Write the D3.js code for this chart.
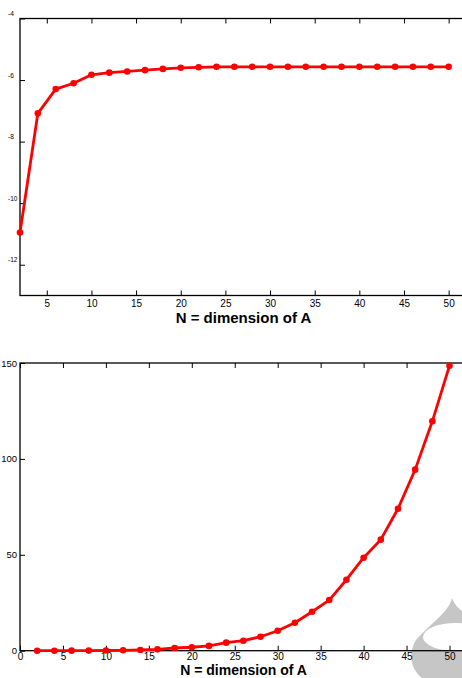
<!DOCTYPE html>
<html>
<head>
<meta charset="utf-8">
<script src="https://cdn.jsdelivr.net/npm/d3@7"></script>
<style>
  body { margin: 0; background: #fff; }
  svg { display: block; }
  text { font-family: "Liberation Sans", Arial, sans-serif; }
</style>
</head>
<body>
<script>
var width = 462
var height = 678

// N values (shared by both panels)
var dims = [2, 4, 6, 8, 10, 12, 14, 16, 18, 20, 22, 24, 26, 28, 30, 32, 34, 36, 38, 40, 42, 44, 46, 48, 50]

// top panel: error, log axis
var errValues = [1.12e-11, 8.3e-8, 5.1e-7, 7.9e-7, 1.48e-6, 1.74e-6, 1.9e-6, 2.1e-6, 2.3e-6, 2.5e-6, 2.6e-6, 2.7e-6, 2.7e-6,
                 2.7e-6, 2.7e-6, 2.7e-6, 2.7e-6, 2.7e-6, 2.7e-6, 2.7e-6, 2.7e-6, 2.7e-6, 2.7e-6, 2.7e-6, 2.7e-6]
var errYTicks = [1e-4, 1e-6, 1e-8, 1e-10, 1e-12]
var errXTicks = [5, 10, 15, 20, 25, 30, 35, 40, 45, 50]

// bottom panel: growth, linear axis
var growthValues = [0, 0.01, 0.02, 0.05, 0.1, 0.2, 0.4, 0.7, 1.4, 1.8, 2.5, 4.2, 5.2, 7.3, 10.4, 14.6, 20.3, 26.4, 37,
                    48.5, 57.9, 74, 94.4, 119.6, 148.6]
var growthYTicks = [0, 50, 100, 150]
var growthXTicks = [0, 5, 10, 15, 20, 25, 30, 35, 40, 45, 50]

var xLabel = "N = dimension of A"

var svg = d3.select("body")
  .append("svg")
    .attr("width", width)
    .attr("height", height)

// ---------- top panel ----------
var x1 = d3.scaleLinear().domain([2, 52]).range([20, 466.5])
var y1 = d3.scaleLog().domain([1e-13, 1e-4]).range([295.5, 18.5])

drawBox(x1, y1)

svg.append("g")
  .attr("transform", "translate(0," + y1.range()[0] + ")")
  .call(d3.axisBottom(x1).tickValues(errXTicks).tickSizeInner(-5).tickSizeOuter(0).tickPadding(4))
  .call(styleAxis)
  .selectAll("text").style("font-size", "10px")

svg.append("g")
  .attr("transform", "translate(0," + y1.range()[1] + ")")
  .call(d3.axisTop(x1).tickValues(errXTicks).tickSizeInner(-5).tickSizeOuter(0).tickFormat(""))
  .call(styleAxis)

var yAx1 = svg.append("g")
  .attr("transform", "translate(" + x1.range()[0] + ",0)")
  .call(d3.axisLeft(y1).tickValues(errYTicks).tickSizeInner(-5).tickSizeOuter(0)
    .tickFormat(function(d){ return String(Math.round(Math.log10(d))) }))
  .call(styleAxis)
// exponent-only labels (the base is cut off by the figure edge)
yAx1.selectAll("text")
  .attr("text-anchor", "start")
  .attr("x", -12)
  .attr("dy", "-3px")
  .style("font-size", "6.5px")

drawSeries(x1, y1, errValues)

svg.append("text")
  .attr("x", 243.5)
  .attr("y", 322.5)
  .attr("text-anchor", "middle")
  .style("font-size", "15px")
  .style("font-weight", "bold")
  .text(xLabel)

// ---------- bottom panel ----------
var x2 = d3.scaleLinear().domain([0, 52]).range([20, 466.7])
var y2 = d3.scaleLinear().domain([0, 150]).range([650.7, 363])

// faint watermark left on the scan
svg.append("path")
  .attr("d", "M452,598 C449,612 430,624 416,640 C407,655 412,670 422,678 L462,678 L462,611 C458,608 454,604 452,598 Z")
  .attr("fill", "#c6c6c6")
svg.append("ellipse")
  .attr("cx", 456).attr("cy", 637).attr("rx", 33).attr("ry", 14)
  .attr("fill", "#fff")

drawBox(x2, y2)

svg.append("g")
  .attr("transform", "translate(0," + y2.range()[0] + ")")
  .call(d3.axisBottom(x2).tickValues(growthXTicks).tickSizeInner(-5).tickSizeOuter(0).tickPadding(2))
  .call(styleAxis)
  .selectAll("text").style("font-size", "10px")

svg.append("g")
  .attr("transform", "translate(0," + y2.range()[1] + ")")
  .call(d3.axisTop(x2).tickValues(growthXTicks).tickSizeInner(-5).tickSizeOuter(0).tickFormat(""))
  .call(styleAxis)

svg.append("g")
  .attr("transform", "translate(" + x2.range()[0] + ",0)")
  .call(d3.axisLeft(y2).tickValues(growthYTicks).tickSizeInner(-5).tickSizeOuter(0).tickPadding(3))
  .call(styleAxis)
  .selectAll("text").style("font-size", "9.5px")

drawSeries(x2, y2, growthValues)

svg.append("text")
  .attr("x", 243.5)
  .attr("y", 675)
  .attr("text-anchor", "middle")
  .style("font-size", "14px")
  .style("font-weight", "bold")
  .text(xLabel)

// ---------- helpers ----------
function drawBox(x, y) {
  svg.append("rect")
    .attr("x", x.range()[0])
    .attr("y", y.range()[1])
    .attr("width", x.range()[1] - x.range()[0])
    .attr("height", y.range()[0] - y.range()[1])
    .attr("fill", "none")
    .attr("stroke", "#000")
    .attr("stroke-width", 1.3)
}

function styleAxis(g) {
  g.select(".domain").remove()
  g.selectAll(".tick line").attr("stroke", "#000").attr("stroke-width", 1)
  g.selectAll(".tick text").attr("fill", "#000")
}

function drawSeries(x, y, vals) {
  var pts = dims.map(function(d, i){ return [d, vals[i]] })
  var line = d3.line()
    .x(function(d){ return x(d[0]) })
    .y(function(d){ return y(d[1]) })
  svg.append("path")
    .datum(pts)
    .attr("d", line)
    .attr("fill", "none")
    .attr("stroke", "#ff0000")
    .attr("stroke-width", 2.8)
    .attr("stroke-linejoin", "round")
  svg.append("g")
    .selectAll("circle")
    .data(pts)
    .enter()
    .append("circle")
      .attr("cx", function(d){ return x(d[0]) })
      .attr("cy", function(d){ return y(d[1]) })
      .attr("r", 3.3)
      .attr("fill", "#ff0000")
}
</script>
</body>
</html>
